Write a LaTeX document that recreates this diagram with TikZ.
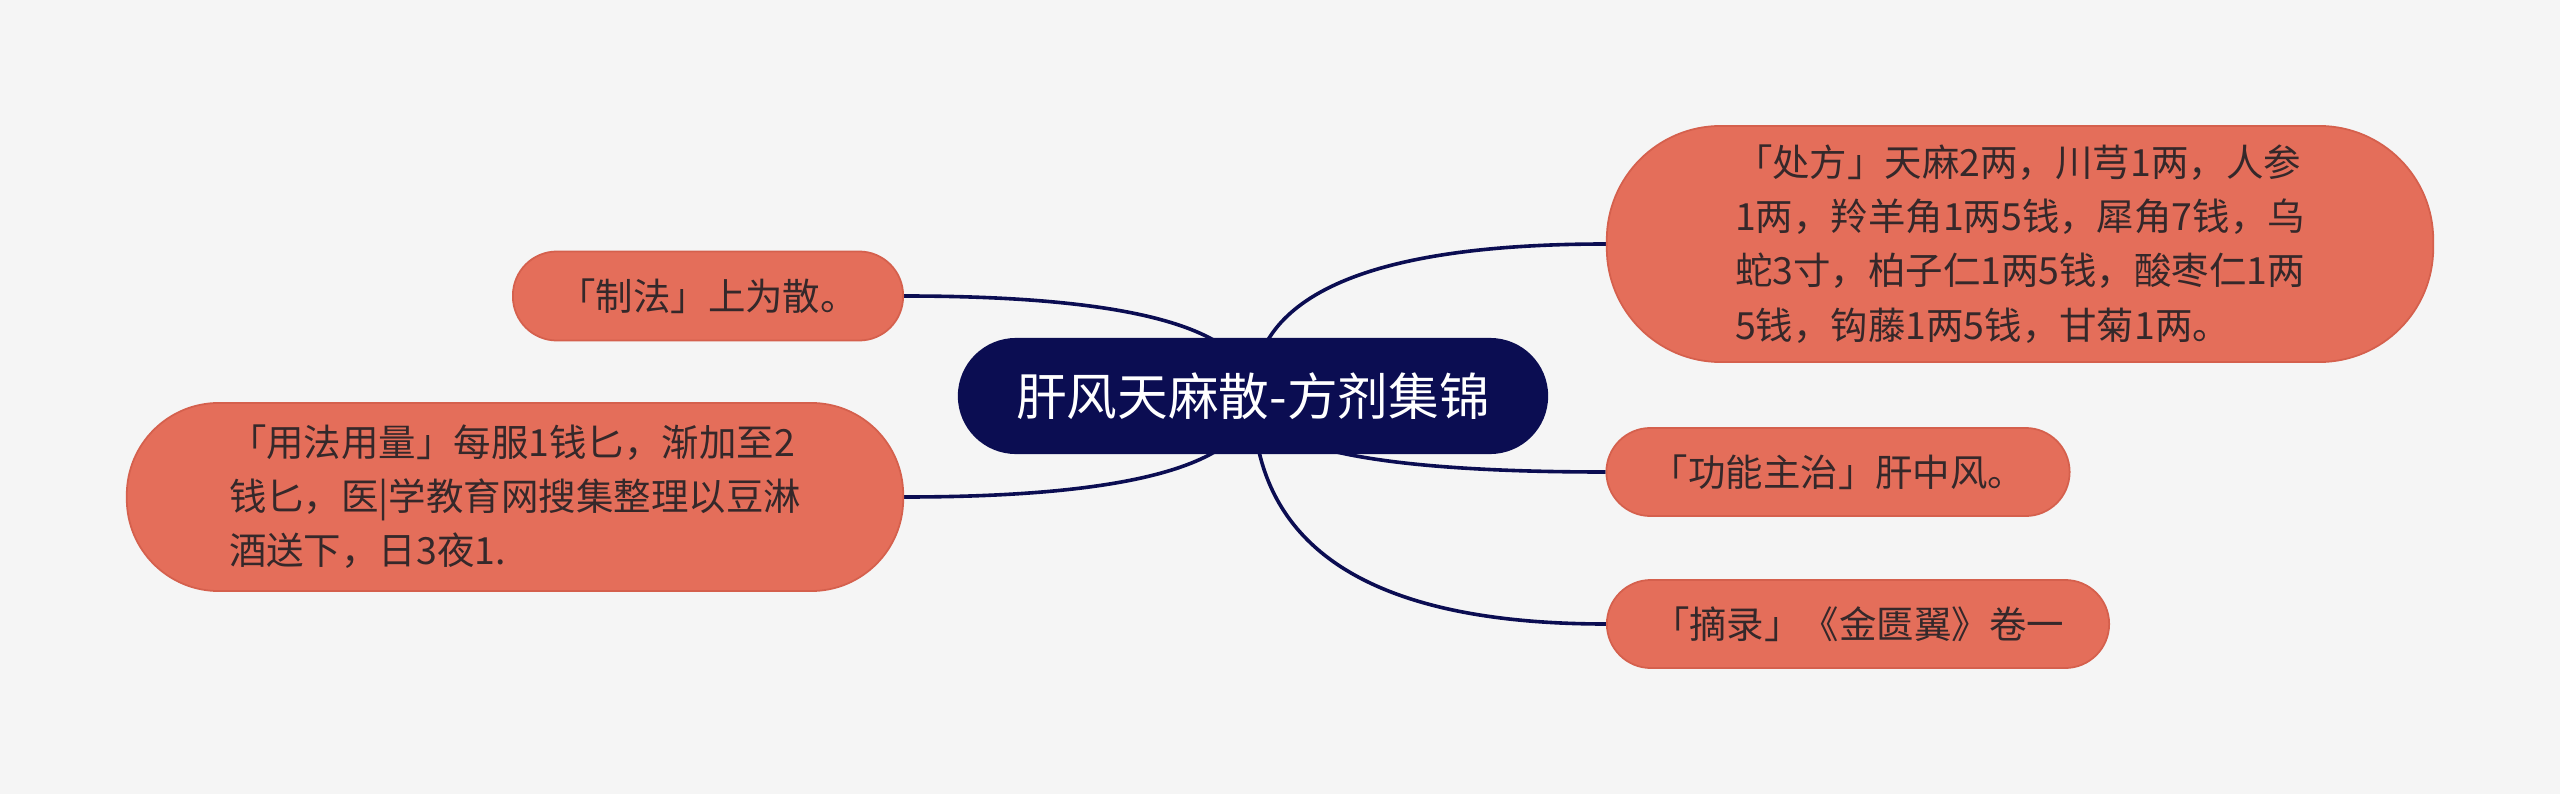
\documentclass[tikz,border=0pt]{standalone}
\usepackage{fontspec}
\newfontfamily\cjk{Noto Sans CJK SC}
\usetikzlibrary{calc,backgrounds}
\definecolor{bgc}{HTML}{F5F5F5}
\definecolor{rootc}{HTML}{0B0D52}
\definecolor{leafc}{HTML}{E46E5A}
\definecolor{leafb}{HTML}{D5604D}
\definecolor{txtc}{HTML}{35282A}
\definecolor{linec}{HTML}{0B0D52}
\begin{document}
\begin{tikzpicture}[x=0.01cm,y=-0.01cm,
  rootbox/.style={fill=rootc, rounded corners=0.58cm, minimum width=5.9cm, minimum height=1.16cm, inner sep=0pt, text=white, font=\cjk\fontsize{14.4}{17}\selectfont},
  leafbox/.style={fill=leafc, draw=leafb, line width=0.5pt, inner sep=0pt, text=txtc, font=\cjk\fontsize{10.65}{15.4}\selectfont, align=left},
  link/.style={draw=linec, line width=0.036cm},
  mmcurve/.style={to path={.. controls ($(\tikztostart)!0.6667!(\tikztostart |- \tikztotarget)$) and ($(\tikztotarget)!0.6667!(\tikztostart |- \tikztotarget)$) .. (\tikztotarget)}}]
\useasboundingbox (0,0) rectangle (2560,794);
\node[rootbox] (root) at (1253,396) {肝风天麻散-方剂集锦};
\node[leafbox, minimum width=8.26cm, minimum height=2.36cm, rounded corners=1.14cm] (chufang) at (2020,244)
  {「处方」天麻2两，川芎1两，人参\\1两，羚羊角1两5钱，犀角7钱，乌\\蛇3寸，柏子仁1两5钱，酸枣仁1两\\5钱，钩藤1两5钱，甘菊1两。};
\node[leafbox, minimum width=3.9cm, minimum height=0.89cm, rounded corners=0.44cm] (zhifa) at (708,296) {「制法」上为散。};
\node[leafbox, minimum width=7.76cm, minimum height=1.88cm, rounded corners=0.92cm] (yongfa) at (515,497)
  {「用法用量」每服1钱匕，渐加至2\\钱匕，医|学教育网搜集整理以豆淋\\酒送下，日3夜1.};
\node[leafbox, minimum width=4.63cm, minimum height=0.88cm, rounded corners=0.44cm] (gongneng) at (1838,472) {「功能主治」肝中风。};
\node[leafbox, minimum width=5.02cm, minimum height=0.88cm, rounded corners=0.44cm] (zhailu) at (1858,624) {「摘录」《金匮翼》卷一};
\begin{scope}[on background layer]
\fill[bgc] (0,0) rectangle (2560,794);
\draw[link] (root.center) to[mmcurve] (chufang.west);
\draw[link] (root.center) to[mmcurve] (zhifa.east);
\draw[link] (root.center) to[mmcurve] (yongfa.east);
\draw[link] (root.center) to[mmcurve] (gongneng.west);
\draw[link] (root.center) to[mmcurve] (zhailu.west);
\end{scope}
\end{tikzpicture}
\end{document}
